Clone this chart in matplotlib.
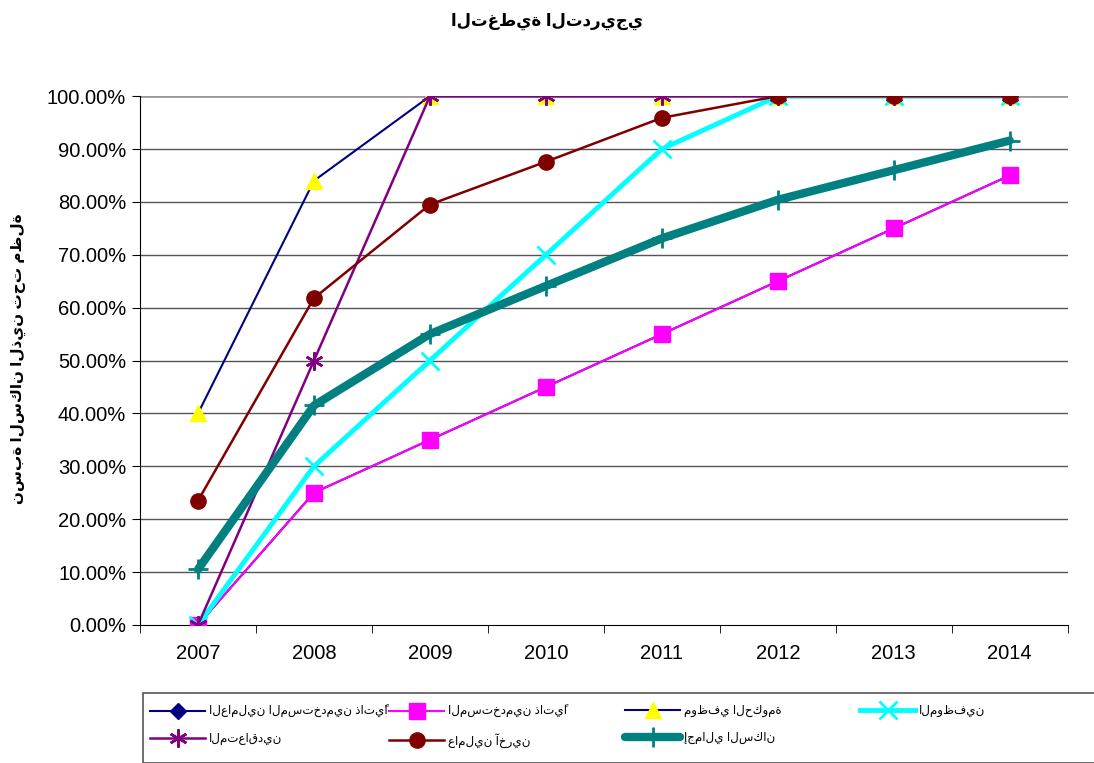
import numpy as np
import matplotlib
matplotlib.use("Agg")
import matplotlib.pyplot as plt
from matplotlib.patches import Rectangle

plt.rcParams['font.family'] = ['Liberation Sans', 'DejaVu Sans']

# البيانات
years = ['2007', '2008', '2009', '2010', '2011', '2012', '2013', '2014']
self_emp_workers = [0.00, 0.25, 0.35, 0.45, 0.55, 0.65, 0.75, 0.85]
self_emp = [0.00, 0.25, 0.35, 0.45, 0.55, 0.65, 0.75, 0.85]
government = [0.40, 0.84, 1.00, 1.00, 1.00, 1.00, 1.00, 1.00]
employees = [0.00, 0.30, 0.50, 0.70, 0.90, 1.00, 1.00, 1.00]
contractors = [0.00, 0.50, 1.00, 1.00, 1.00, 1.00, 1.00, 1.00]
other_workers = [0.235, 0.618, 0.795, 0.876, 0.959, 1.00, 1.00, 1.00]
total_pop = [0.105, 0.415, 0.55, 0.641, 0.731, 0.804, 0.86, 0.916]

labels = ['العاملين المستخدمين ذاتيًا', 'المستخدمين ذاتيًا', 'موظفي الحكومة',
          'الموظفين', 'المتعاقدين', 'عاملين آخرين', 'إجمالي السكان']
title = 'التغطية التدريجي'
ylabel = 'نسبة السكان الذين تحت مظلة'

fig = plt.figure(figsize=(10.94, 7.63), dpi=100)
ax = fig.add_axes([0.128, 0.181, 0.848, 0.693])
x = np.arange(len(years))

lines = []
lines += ax.plot(x, self_emp_workers, color='#000080', lw=1.5, marker='D', ms=8,
                 mfc='#000080', mec='#000080', label=labels[0], zorder=3)
lines += ax.plot(x, self_emp, color='#FF00FF', lw=1.5, marker='s', ms=11,
                 mfc='#FF00FF', mec='#FF00FF', label=labels[1], zorder=3)
lines += ax.plot(x, government, color='#000080', lw=1.5, marker='^', ms=11,
                 mfc='#FFFF00', mec='#FFFF00', label=labels[2], zorder=3)
lines += ax.plot(x, employees, color='#00FFFF', lw=3.5, marker='x', ms=13, mew=2,
                 mec='#00FFFF', label=labels[3], zorder=3)
lines += ax.plot(x, contractors, color='#800080', lw=1.8, marker=(6, 2, 0), ms=13, mew=1.8,
                 mec='#800080', label=labels[4], zorder=3)
lines += ax.plot(x, other_workers, color='#800000', lw=1.8, marker='o', ms=11,
                 mfc='#800000', mec='#800000', label=labels[5], zorder=3)
lines += ax.plot(x, total_pop, color='#008080', lw=6, marker='+', ms=15, mew=2,
                 mec='#008080', label=labels[6], zorder=3, solid_capstyle='round')

ax.set_xlim(-0.5, len(years) - 0.5)
ax.set_ylim(0, 1.0)
ax.set_xticks(x)
ax.set_xticklabels(years, fontsize=14.5)
ax.set_xticks(np.arange(-0.5, len(years)), minor=True)
ax.tick_params(axis='x', which='major', length=0, pad=14)
ax.tick_params(axis='x', which='minor', length=6, color='black', direction='out')
ax.set_yticks(np.arange(0, 1.01, 0.1))
ax.set_yticklabels([f'{v * 100:.2f}%' for v in np.arange(0, 1.01, 0.1)], fontsize=14.5)
ax.tick_params(axis='y', length=6, direction='out', pad=4)

for v in np.arange(0.1, 1.0, 0.1):
    ax.axhline(v, color='#555555', lw=1, zorder=1)
ax.axhline(1.0, color='#999999', lw=2, zorder=1)

for s in ['top', 'right']:
    ax.spines[s].set_visible(False)
ax.spines['left'].set_color('black')
ax.spines['bottom'].set_color('black')

fig.text(0.5, 0.972, title, ha='center', va='center', fontsize=12, fontweight='bold')
fig.text(0.017, 0.53, ylabel, ha='center', va='center', rotation=90,
         fontsize=11, fontweight='bold')

# الإطار ووسيلة الإيضاح
fig.patches.append(Rectangle((143 / 1094, 0), 1.0, 70 / 763, transform=fig.transFigure,
                             fill=False, edgecolor='#555555', lw=1.2))
col_x = [148 / 1094, 387 / 1094, 623 / 1094, 858 / 1094]
cols = [[0, 4], [1, 5], [2, 6], [3]]
for cx, idx in zip(col_x, cols):
    fig.legend(handles=[lines[i] for i in idx], loc='upper left',
               bbox_to_anchor=(cx, 60 / 763), fontsize=8.6, frameon=False,
               handlelength=4.6, handletextpad=0.3, borderaxespad=0,
               borderpad=0.2, labelspacing=1.2)

fig.savefig('out.png', dpi=100)
